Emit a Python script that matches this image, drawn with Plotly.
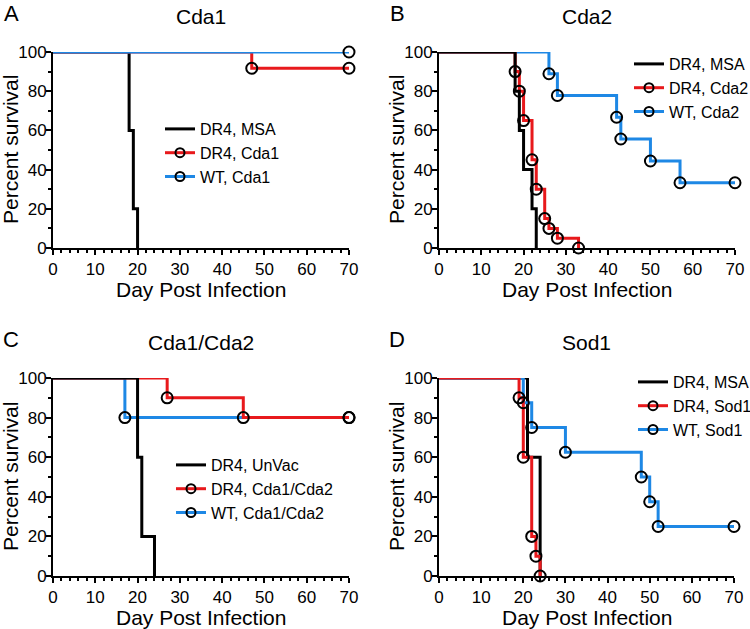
import plotly.graph_objects as go

# ---------------- data ----------------
# Panel A: Cda1
A_msa_days = [0, 18, 19, 20]
A_msa_surv = [100, 60, 20, 0]
A_dr4_days = [0, 47, 70]
A_dr4_surv = [100, 91.7, 91.7]
A_wt_days = [0, 70]
A_wt_surv = [100, 100]

# Panel B: Cda2
B_msa_days = [0, 18, 19, 20, 22, 23]
B_msa_surv = [100, 80, 60, 40, 20, 0]
B_dr4_days = [0, 18, 19, 20, 22, 23, 25, 26, 28, 33]
B_dr4_surv = [100, 90, 80, 65, 45, 30, 15, 10, 5, 0]
B_wt_days = [0, 26, 28, 42, 43, 50, 57, 70]
B_wt_surv = [100, 88.9, 77.8, 66.7, 55.6, 44.4, 33.3, 33.3]

# Panel C: Cda1/Cda2
C_unvac_days = [0, 20, 21, 24]
C_unvac_surv = [100, 60, 20, 0]
C_dr4_days = [0, 27, 45, 70]
C_dr4_surv = [100, 90, 80, 80]
C_wt_days = [0, 17, 70]
C_wt_surv = [100, 80, 80]

# Panel D: Sod1
D_msa_days = [0, 21, 24]
D_msa_surv = [100, 60, 0]
D_dr4_days = [0, 19, 20, 22, 23, 24]
D_dr4_surv = [100, 90, 60, 20, 10, 0]
D_wt_days = [0, 20, 22, 30, 48, 50, 52, 70]
D_wt_surv = [100, 87.5, 75, 62.5, 50, 37.5, 25, 25]

titles = ["Cda1", "Cda2", "Cda1/Cda2", "Sod1"]
letters = ["A", "B", "C", "D"]
x_ticks = [0, 10, 20, 30, 40, 50, 60, 70]
y_ticks = [0, 20, 40, 60, 80, 100]

BLACK = "#000000"
RED = "#E8191C"
BLUE = "#1E88E5"
FONT = "Liberation Sans, Arial, sans-serif"

W, H = 750, 629

# panel pixel boxes (left, right, top, bottom)
boxes = [
    (53, 349, 52, 248),
    (439, 735, 52, 248),
    (53, 349, 378, 576),
    (439, 734, 378, 576),
]

# series per panel: (name, days, surv, color, has_markers); listed in draw order
panels = [
    [("DR4, MSA", A_msa_days, A_msa_surv, BLACK, False),
     ("DR4, Cda1", A_dr4_days, A_dr4_surv, RED, True),
     ("WT, Cda1", A_wt_days, A_wt_surv, BLUE, True)],
    [("WT, Cda2", B_wt_days, B_wt_surv, BLUE, True),
     ("DR4, Cda2", B_dr4_days, B_dr4_surv, RED, True),
     ("DR4, MSA", B_msa_days, B_msa_surv, BLACK, False)],
    [("WT, Cda1/Cda2", C_wt_days, C_wt_surv, BLUE, True),
     ("DR4, Cda1/Cda2", C_dr4_days, C_dr4_surv, RED, True),
     ("DR4, UnVac", C_unvac_days, C_unvac_surv, BLACK, False)],
    [("DR4, MSA", D_msa_days, D_msa_surv, BLACK, False),
     ("WT, Sod1", D_wt_days, D_wt_surv, BLUE, True),
     ("DR4, Sod1", D_dr4_days, D_dr4_surv, RED, True)],
]
legend_orders = [
    [("DR4, MSA", BLACK, False), ("DR4, Cda1", RED, True), ("WT, Cda1", BLUE, True)],
    [("DR4, MSA", BLACK, False), ("DR4, Cda2", RED, True), ("WT, Cda2", BLUE, True)],
    [("DR4, UnVac", BLACK, False), ("DR4, Cda1/Cda2", RED, True), ("WT, Cda1/Cda2", BLUE, True)],
    [("DR4, MSA", BLACK, False), ("DR4, Sod1", RED, True), ("WT, Sod1", BLUE, True)],
]
# legend positions (left px, top px)
legend_pos = [(160, 112), (629, 47), (171, 448), (633, 365)]

fig = go.Figure()
layout = dict(
    width=W, height=H,
    margin=dict(l=0, r=0, t=0, b=0, autoexpand=False),
    paper_bgcolor="white", plot_bgcolor="white",
    font=dict(family=FONT, color="black"),
    showlegend=True,
)
annotations = []

for i in range(4):
    L, R, T, B = boxes[i]
    xs = "" if i == 0 else str(i + 1)
    xa, ya = "x" + xs, "y" + xs
    lg = "legend" if i == 0 else "legend" + str(i + 1)
    for name, d, s, col, mk in panels[i]:
        fig.add_trace(go.Scatter(
            x=d, y=s, mode="lines", line=dict(color=col, width=3, shape="hv"),
            xaxis=xa, yaxis=ya, showlegend=False, cliponaxis=False, hoverinfo="skip"))
    for name, d, s, col, mk in panels[i]:
        if mk:
            fig.add_trace(go.Scatter(
                x=d[1:], y=s[1:], mode="markers",
                marker=dict(symbol="circle-open", size=11, color=BLACK, line=dict(width=2, color=BLACK)),
                xaxis=xa, yaxis=ya, showlegend=False, cliponaxis=False, hoverinfo="skip"))
    for name, col, mk in legend_orders[i]:
        fig.add_trace(go.Scatter(
            x=[None], y=[None], mode="lines+markers" if mk else "lines", name=name,
            line=dict(color=col, width=3),
            marker=dict(symbol="circle-open", size=9, color=BLACK, line=dict(width=2, color=BLACK)),
            xaxis=xa, yaxis=ya, legend=lg, showlegend=True))
    lx, ly = legend_pos[i]
    layout[lg] = dict(x=lx / W, y=1 - ly / H, xanchor="left", yanchor="top",
                      bgcolor="rgba(0,0,0,0)", borderwidth=0,
                      font=dict(size=16, family=FONT, color="black"),
                      tracegroupgap=0)
    axcommon = dict(showline=True, linecolor="black", linewidth=2, ticks="outside",
                    ticklen=5, tickwidth=2, tickcolor="black", showgrid=False, zeroline=False,
                    tickfont=dict(size=17, family=FONT, color="black"))
    layout["xaxis" + xs] = dict(
        domain=[L / W, R / W], anchor=ya, range=[0, 70], tickvals=x_ticks,
        minor=dict(dtick=2, tick0=0, ticklen=3, tickwidth=1.5, tickcolor="black", ticks="outside"),
        **axcommon)
    layout["yaxis" + xs] = dict(
        domain=[1 - B / H, 1 - T / H], anchor=xa, range=[0, 100], tickvals=y_ticks,
        ticklabelstandoff=-4,
        minor=dict(dtick=10, tick0=0, ticklen=3, tickwidth=1.5, tickcolor="black", ticks="outside"),
        **axcommon)
    cx = (L + R) / 2
    cy = (T + B) / 2
    # title
    annotations.append(dict(text=titles[i], x=cx / W, y=1 - (T - 36) / H, xref="paper", yref="paper",
                            showarrow=False, xanchor="center", yanchor="middle",
                            font=dict(size=21, family=FONT, color="black")))
    # panel letter
    annotations.append(dict(text=letters[i], x=(L - 42) / W, y=1 - (T - 39) / H, xref="paper", yref="paper",
                            showarrow=False, xanchor="center", yanchor="middle",
                            font=dict(size=22, family=FONT, color="black")))
    # x title
    annotations.append(dict(text="Day Post Infection", x=cx / W, y=1 - (B + 41) / H, xref="paper", yref="paper",
                            showarrow=False, xanchor="center", yanchor="middle",
                            font=dict(size=21, family=FONT, color="black")))
    # y title
    annotations.append(dict(text="Percent survival", x=(L - 43) / W, y=1 - cy / H, xref="paper", yref="paper",
                            showarrow=False, xanchor="center", yanchor="middle", textangle=-90,
                            font=dict(size=21, family=FONT, color="black")))

layout["annotations"] = annotations
fig.update_layout(**layout)
fig.write_html("out.html", config={"displayModeBar": False},
               post_script="document.body.style.margin='0';document.body.style.padding='0';document.body.style.overflow='hidden';")
